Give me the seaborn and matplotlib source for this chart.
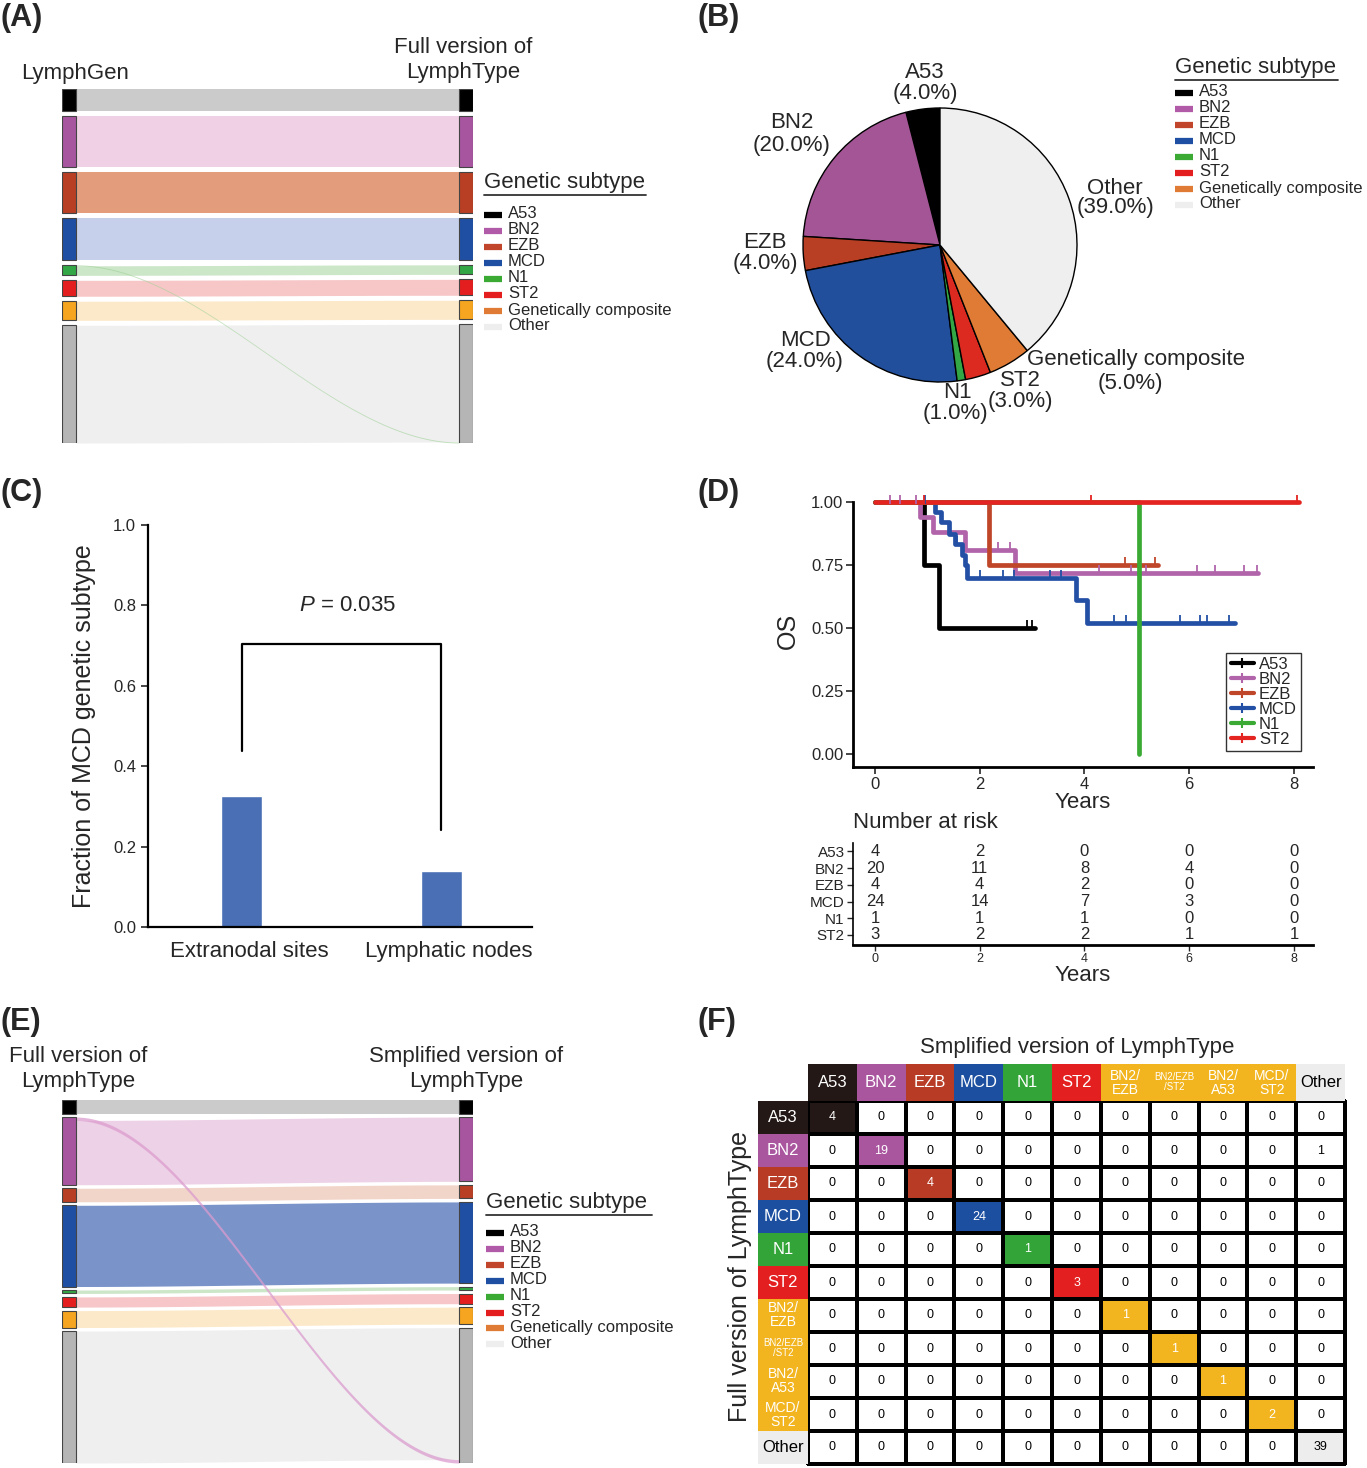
import numpy as np
import pandas as pd
import matplotlib
matplotlib.use('Agg')
import matplotlib.pyplot as plt
import matplotlib.transforms as mtransforms
import seaborn as sns
from matplotlib.colors import ListedColormap
from matplotlib.lines import Line2D
from matplotlib.patches import Rectangle

sns.set_style('white')
plt.rcParams['font.family'] = ['Liberation Sans', 'DejaVu Sans']
plt.rcParams['mathtext.fontset'] = 'custom'
plt.rcParams['mathtext.it'] = 'Liberation Sans:italic'
plt.rcParams['mathtext.rm'] = 'Liberation Sans'

# ------------------------------------------------------------------ DATA
subtypes = ['A53', 'BN2', 'EZB', 'MCD', 'N1', 'ST2', 'Genetically composite', 'Other']

# Panel A: LymphGen -> Full version of LymphType
a_src = ['A53', 'BN2', 'EZB', 'MCD', 'N1', 'ST2', 'Genetically composite', 'Other', 'N1']
a_dst = ['A53', 'BN2', 'EZB', 'MCD', 'N1', 'ST2', 'Genetically composite', 'Other', 'Other']
a_val = [7, 16, 13, 13, 3, 5, 6, 37, 0.3]

# Panel E: Full -> Simplified version of LymphType
e_src = ['A53', 'BN2', 'EZB', 'MCD', 'N1', 'ST2', 'Genetically composite', 'Other', 'BN2']
e_dst = ['A53', 'BN2', 'EZB', 'MCD', 'N1', 'ST2', 'Genetically composite', 'Other', 'Other']
e_val = [4, 19, 4, 24, 1, 3, 5, 39, 1]

# Panel B: pie
pie_pct = [4.0, 20.0, 4.0, 24.0, 1.0, 3.0, 5.0, 39.0]

# Panel C
sites = ['Extranodal sites', 'Lymphatic nodes']
mcd_frac = [0.325, 0.139]
p_label = r'$\mathit{P}$ = 0.035'
bracket_y = [0.437, 0.705, 0.705, 0.241]

# Panel D: Kaplan-Meier (time in years, survival after each step)
km_groups = ['A53', 'BN2', 'EZB', 'MCD', 'N1', 'ST2']
km_t = {
    'A53': [0, 0.93, 1.22, 3.05],
    'BN2': [0, 0.85, 1.10, 1.72, 2.68, 7.32],
    'EZB': [0, 2.18, 5.40],
    'MCD': [0, 1.14, 1.26, 1.41, 1.52, 1.66, 1.71, 1.75, 3.83, 4.04, 6.88],
    'N1': [0, 5.05],
    'ST2': [0, 8.10],
}
km_s = {
    'A53': [1.0, 0.75, 0.50, 0.50],
    'BN2': [1.0, 0.94, 0.88, 0.81, 0.72, 0.72],
    'EZB': [1.0, 0.75, 0.75],
    'MCD': [1.0, 0.96, 0.92, 0.875, 0.835, 0.79, 0.75, 0.70, 0.61, 0.52, 0.52],
    'N1': [1.0, 0.0],
    'ST2': [1.0, 1.0],
}
km_cens = {
    'A53': [2.90, 3.00],
    'BN2': [0.29, 0.48, 0.78, 2.35, 2.58, 4.27, 4.88, 5.17, 6.14, 6.49, 7.05, 7.29],
    'EZB': [4.78, 5.34],
    'MCD': [0.95, 1.57, 2.00, 2.45, 2.66, 3.34, 3.55, 4.56, 4.79, 5.83, 6.20, 6.33, 6.76],
    'N1': [],
    'ST2': [0.93, 4.12, 8.06],
}
risk_times = [0, 2, 4, 6, 8]
risk_A53 = [4, 2, 0, 0, 0]
risk_BN2 = [20, 11, 8, 4, 0]
risk_EZB = [4, 4, 2, 0, 0]
risk_MCD = [24, 14, 7, 3, 0]
risk_N1 = [1, 1, 1, 0, 0]
risk_ST2 = [3, 2, 2, 1, 1]

# Panel F: confusion table
f_cols = ['A53', 'BN2', 'EZB', 'MCD', 'N1', 'ST2', 'BN2/\nEZB', 'BN2/EZB\n/ST2', 'BN2/\nA53', 'MCD/\nST2', 'Other']
f_matrix = [
    [4, 0, 0, 0, 0, 0, 0, 0, 0, 0, 0],
    [0, 19, 0, 0, 0, 0, 0, 0, 0, 0, 1],
    [0, 0, 4, 0, 0, 0, 0, 0, 0, 0, 0],
    [0, 0, 0, 24, 0, 0, 0, 0, 0, 0, 0],
    [0, 0, 0, 0, 1, 0, 0, 0, 0, 0, 0],
    [0, 0, 0, 0, 0, 3, 0, 0, 0, 0, 0],
    [0, 0, 0, 0, 0, 0, 1, 0, 0, 0, 0],
    [0, 0, 0, 0, 0, 0, 0, 1, 0, 0, 0],
    [0, 0, 0, 0, 0, 0, 0, 0, 1, 0, 0],
    [0, 0, 0, 0, 0, 0, 0, 0, 0, 2, 0],
    [0, 0, 0, 0, 0, 0, 0, 0, 0, 0, 39],
]

# ------------------------------------------------------------------ STYLE
legend_cols = ['#000000', '#b05aa8', '#c0452b', '#1f4fa3', '#3aaa35', '#e41e1e', '#e07b35', '#eeeeee']
node_cols = ['#000000', '#a855a0', '#b83f24', '#1f4fa3', '#33a745', '#e41e1e', '#f5a51f', '#b5b5b5']
a_flow_cols = ['#cbcbcb', '#efd0e5', '#e49d7c', '#c6d0ea', '#cce6c8', '#f7c7c7', '#fce9c9', '#efefef']
e_flow_cols = ['#cbcbcb', '#edd1e6', '#f2d5c9', '#7a94ca', '#cce6c8', '#f6c6c8', '#fce9c9', '#efefef']
pie_cols = ['#000000', '#a45595', '#b83f24', '#224f9c', '#33a745', '#dd2a20', '#e07b35', '#efefef']
km_cols = ['#000000', '#b164aa', '#c0462a', '#2350a5', '#3aaa35', '#e42421']
f_palette = ['#231815', '#a9569f', '#b83c25', '#1d4fa0', '#33a437', '#e41f1f', '#f2b520', '#ededed', '#ffffff']
f_col_idx = [0, 1, 2, 3, 4, 5, 6, 6, 6, 6, 7]

W, H = 1367, 1468
fig = plt.figure(figsize=(W / 100, H / 100), dpi=100)


def px_axes(x0, y0, x1, y1):
    return fig.add_axes([x0 / W, 1 - y1 / H, (x1 - x0) / W, (y1 - y0) / H])


def ftext(x, y, s, **kw):
    return fig.text(x / W, 1 - y / H, s, **kw)


def fline(x0, x1, y, **kw):
    fig.add_artist(Line2D([x0 / W, x1 / W], [1 - y / H, 1 - y / H], **kw))


def subtype_legend(x, ytitle, yfirst, spacing, ulen):
    ftext(x, ytitle, 'Genetic subtype', fontsize=16, va='baseline', ha='left')
    fline(x, x + ulen, ytitle + 7, color='#333333', lw=1.3)
    for i, (name, c) in enumerate(zip(subtypes, legend_cols)):
        yy = yfirst + i * spacing
        fline(x, x + 18, yy + 1, color=c, lw=4.5, solid_capstyle='butt')
        ftext(x + 24, yy, name, fontsize=12, va='center', ha='left')


def draw_sankey(ax, src, dst, vals, flow_cols, cross_col, cross_alpha, gap, node_w):
    order = subtypes
    ltot = {k: 0.0 for k in order}
    rtot = {k: 0.0 for k in order}
    for s, d, v in zip(src, dst, vals):
        ltot[s] += v
        rtot[d] += v

    def stack(tot):
        pos, y = {}, 0.0
        for k in order:
            pos[k] = (y, y + tot[k])
            y += tot[k] + gap
        return pos, y - gap

    lp, lh = stack(ltot)
    rp, rh = stack(rtot)
    flows = list(zip(src, dst, vals))
    lal, ral = {}, {}
    for k in order:
        out = [i for i, f in enumerate(flows) if f[0] == k]
        out.sort(key=lambda i: (flows[i][1] == k, order.index(flows[i][1])))
        cur = lp[k][0]
        for i in out:
            lal[i] = (cur, cur + flows[i][2])
            cur += flows[i][2]
        inc = [i for i, f in enumerate(flows) if f[1] == k]
        inc.sort(key=lambda i: (flows[i][0] != k, order.index(flows[i][0])))
        cur = rp[k][0]
        for i in inc:
            ral[i] = (cur, cur + flows[i][2])
            cur += flows[i][2]
    t = np.linspace(0, 1, 200)
    sm = 3 * t ** 2 - 2 * t ** 3
    xs = node_w + (1 - 2 * node_w) * t
    idx_sorted = sorted(range(len(flows)), key=lambda i: flows[i][0] != flows[i][1])
    for i in idx_sorted:
        s, d, v = flows[i]
        top = lal[i][0] + (ral[i][0] - lal[i][0]) * sm
        bot = lal[i][1] + (ral[i][1] - lal[i][1]) * sm
        if s == d:
            ax.fill_between(xs, top, bot, color=flow_cols[order.index(s)], lw=0)
        else:
            ax.fill_between(xs, top, bot, color=cross_col, lw=0, alpha=cross_alpha)
    for k in order:
        c = node_cols[order.index(k)]
        ax.add_patch(Rectangle((0, lp[k][0]), node_w, lp[k][1] - lp[k][0], fc=c, ec='#444444', lw=0.8))
        ax.add_patch(Rectangle((1 - node_w, rp[k][0]), node_w, rp[k][1] - rp[k][0], fc=c, ec='#444444', lw=0.8))
    ax.set_xlim(0, 1)
    ax.set_ylim(max(lh, rh), 0)
    ax.axis('off')


# ------------------------------------------------------------------ PANEL LABELS
for lab, x, y in [('(A)', 0, 18), ('(B)', 697, 18), ('(C)', 0, 493), ('(D)', 697, 493),
                  ('(E)', 0, 1022), ('(F)', 697, 1022)]:
    ftext(x, y, lab, fontsize=22, fontweight='bold', va='center', ha='left')

# ------------------------------------------------------------------ PANEL A
axA = px_axes(62, 89, 473, 443)
draw_sankey(axA, a_src, a_dst, a_val, a_flow_cols, '#9fd197', 0.6, gap=1.57, node_w=14 / 411)
ftext(75, 74, 'LymphGen', fontsize=16, ha='center', va='center')
ftext(463, 60, 'Full version of\nLymphType', fontsize=16, ha='center', va='center', linespacing=1.25)
subtype_legend(484, 188, 214, 16, 162)

# ------------------------------------------------------------------ PANEL B
PCX, PCY, PR = 940, 245, 137
axB = px_axes(PCX - PR, PCY - PR, PCX + PR, PCY + PR)
axB.pie(pie_pct, colors=pie_cols, startangle=90, counterclock=True,
        wedgeprops=dict(edgecolor='black', linewidth=1.0))
axB.set_xlim(-1, 1)
axB.set_ylim(-1, 1)
axB.set_aspect('auto')
axB.axis('off')
# label layout: (name x, name y, pct x, pct y) in figure pixels
pie_label_layout = [(925, 73, 925, 94), (792, 122, 792, 145), (765, 243, 765, 264),
                    (805, 341, 805, 362), (957, 393, 955, 414), (1020, 381, 1020, 401),
                    (1136, 360, 1130, 383), (1115, 188, 1115, 208)]
for name, pct, (nx, ny, qx, qy) in zip(subtypes, pie_pct, pie_label_layout):
    axB.text((nx - PCX) / PR, (PCY - ny) / PR, name, fontsize=16, ha='center', va='center')
    axB.text((qx - PCX) / PR, (PCY - qy) / PR, f'({pct:.1f}%)', fontsize=16, ha='center', va='center')
subtype_legend(1175, 73, 92, 16, 163)

# ------------------------------------------------------------------ PANEL C
axC = px_axes(148, 525, 532, 927)
dfc = pd.DataFrame({'site': sites, 'frac': mcd_frac})
sns.barplot(data=dfc, x='site', y='frac', color='#4a6fb5', saturation=1, width=0.206, ax=axC)
axC.plot([0, 0, 1, 1], bracket_y, color='black', lw=1.6)
axC.text(0.53, 0.80, p_label, fontsize=16, ha='center', va='center')
axC.set_xlim(-0.47, 1.456)
axC.set_ylim(0, 1.0)
axC.set_yticks(np.arange(0, 1.01, 0.2))
axC.set_yticklabels([f'{v:.1f}' for v in np.arange(0, 1.01, 0.2)], fontsize=12)
axC.tick_params(axis='y', direction='out', length=5, width=1.2, left=True)
axC.tick_params(axis='x', length=0, labelsize=16, pad=10)
shift = mtransforms.ScaledTranslation(8 / 100, 0, fig.dpi_scale_trans)
for lbl in axC.get_xticklabels():
    lbl.set_transform(lbl.get_transform() + shift)
axC.set_xlabel('')
axC.set_ylabel('Fraction of MCD genetic subtype', fontsize=18, labelpad=12)
for sp in ['top', 'right']:
    axC.spines[sp].set_visible(False)
for sp in ['left', 'bottom']:
    axC.spines[sp].set_linewidth(1.6)
    axC.spines[sp].set_color('black')

# ------------------------------------------------------------------ PANEL D (KM)
axD = px_axes(853, 495, 1313, 767)
handles = []
for g, c in zip(km_groups, km_cols):
    df = pd.DataFrame({'t': km_t[g], 's': km_s[g]})
    sns.lineplot(data=df, x='t', y='s', ax=axD, color=c, lw=3.4, drawstyle='steps-post',
                 estimator=None, sort=False, legend=False)
    if km_cens[g]:
        ts = np.array(km_t[g])
        ss = np.array(km_s[g])
        cy = [ss[np.searchsorted(ts, x, side='right') - 1] for x in km_cens[g]]
        dcen = pd.DataFrame({'t': km_cens[g], 's': np.array(cy) + 0.012})
        sns.scatterplot(data=dcen, x='t', y='s', ax=axD, color=c, marker='|', s=60,
                        linewidth=1.3, legend=False, zorder=5)
    handles.append(Line2D([], [], color=c, lw=3, marker='|', markersize=7, markeredgewidth=1.5, label=g))
axD.set_xlim(-0.42, 8.363)
axD.set_ylim(-0.0516, 1.028)
axD.set_xticks(risk_times)
axD.set_xticklabels([str(v) for v in risk_times], fontsize=12)
axD.set_yticks([0, 0.25, 0.5, 0.75, 1.0])
axD.set_yticklabels(['0.00', '0.25', '0.50', '0.75', '1.00'], fontsize=12)
axD.tick_params(direction='out', length=5, width=1.2, left=True, bottom=True, pad=2)
axD.set_xlabel('Years', fontsize=16, labelpad=0)
axD.set_ylabel('OS', fontsize=18, labelpad=8)
for sp in ['top', 'right']:
    axD.spines[sp].set_visible(False)
for sp in ['left', 'bottom']:
    axD.spines[sp].set_linewidth(2.0)
    axD.spines[sp].set_color('black')
axD.spines['left'].set_bounds(-0.0516, 1.0)
leg = axD.legend(handles=handles, loc='lower right', bbox_to_anchor=(1301 / W, 1 - 751 / H),
                 bbox_transform=fig.transFigure, fontsize=12, frameon=True, fancybox=False,
                 borderpad=0.25, labelspacing=0.0, handlelength=1.4, handletextpad=0.3,
                 borderaxespad=0)
leg.get_frame().set_edgecolor('black')
leg.get_frame().set_linewidth(1.0)

# risk table
axR = px_axes(853, 843, 1313, 945)
risk_rows = [risk_A53, risk_BN2, risk_EZB, risk_MCD, risk_N1, risk_ST2]
for i, row in enumerate(risk_rows):
    for t, v in zip(risk_times, row):
        axR.text(t, i, str(v), fontsize=12, ha='center', va='center')
axR.set_xlim(-0.42, 8.363)
axR.set_ylim(5.6, -0.5)
axR.set_yticks(range(len(km_groups)))
axR.set_yticklabels(km_groups, fontsize=11)
axR.set_xticks(risk_times)
axR.set_xticklabels([str(v) for v in risk_times], fontsize=9)
axR.tick_params(direction='out', length=4, width=1.0, left=True, bottom=True, pad=2)
axR.set_xlabel('Years', fontsize=16, labelpad=0)
for sp in ['top', 'right']:
    axR.spines[sp].set_visible(False)
axR.spines['left'].set_linewidth(1.2)
axR.spines['bottom'].set_linewidth(2.0)
for sp in ['left', 'bottom']:
    axR.spines[sp].set_color('black')
ftext(853, 823, 'Number at risk', fontsize=16, ha='left', va='center')

# ------------------------------------------------------------------ PANEL E
axE = px_axes(62, 1100, 473, 1463)
draw_sankey(axE, e_src, e_dst, e_val, e_flow_cols, '#dc9ccf', 0.75, gap=1.04, node_w=14 / 411)
ftext(78, 1069, 'Full version of\nLymphType', fontsize=16, ha='center', va='center', linespacing=1.25)
ftext(466, 1069, 'Smplified version of\nLymphType', fontsize=16, ha='center', va='center', linespacing=1.25)
subtype_legend(486, 1208, 1232, 15.9, 166)

# ------------------------------------------------------------------ PANEL F
fmat = np.array(f_matrix)
n = fmat.shape[0]
cidx = np.full(fmat.shape, 8)
for i in range(n):
    if fmat[i, i] > 0:
        cidx[i, i] = f_col_idx[i]
cmap = ListedColormap(f_palette)

axF = px_axes(808, 1101, 1345, 1464)
sns.heatmap(cidx, cmap=cmap, vmin=-0.5, vmax=8.5, cbar=False, linewidths=1.6, linecolor='black',
            xticklabels=False, yticklabels=False, ax=axF)
axF.collections[0].set_clip_on(False)
for i in range(n):
    for j in range(n):
        ci = cidx[i, j]
        col = 'white' if ci not in (7, 8) else 'black'
        axF.text(j + 0.5, i + 0.5, str(fmat[i, j]), fontsize=9, ha='center', va='center', color=col)

axFh = px_axes(808, 1064, 1345, 1101)
sns.heatmap(np.array([f_col_idx]), cmap=cmap, vmin=-0.5, vmax=8.5, cbar=False, linewidths=0,
            xticklabels=False, yticklabels=False, ax=axFh)
axFv = px_axes(758, 1101, 808, 1464)
sns.heatmap(np.array([f_col_idx]).T, cmap=cmap, vmin=-0.5, vmax=8.5, cbar=False, linewidths=0,
            xticklabels=False, yticklabels=False, ax=axFv)
for j, lab in enumerate(f_cols):
    col = 'black' if f_col_idx[j] == 7 else 'white'
    fs = 12 if '\n' not in lab else (7 if lab.count('/') > 1 else 10)
    axFh.text(j + 0.5, 0.5, lab, fontsize=fs, ha='center', va='center', color=col, linespacing=1.0)
    axFv.text(0.5, j + 0.5, lab, fontsize=fs, ha='center', va='center', color=col, linespacing=1.0)

ftext(1077, 1048, 'Smplified version of LymphType', fontsize=16, ha='center', va='center')
ftext(740, 1276, 'Full version of LymphType', fontsize=18, ha='center', va='center', rotation=90)

fig.savefig('out.png', dpi=100)
